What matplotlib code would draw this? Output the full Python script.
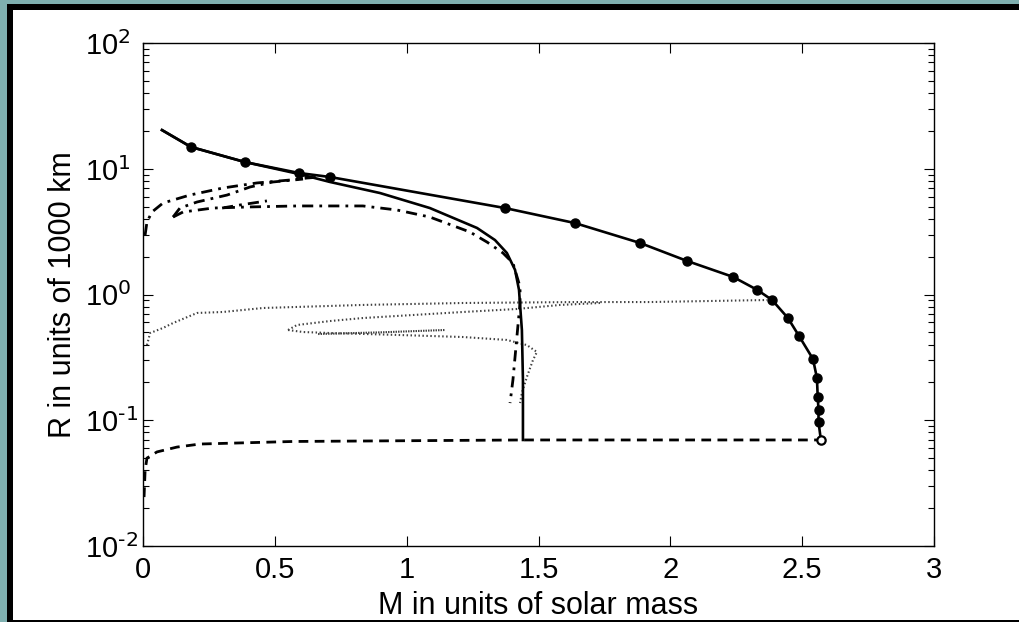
import matplotlib
matplotlib.use("Agg")
import matplotlib.pyplot as plt
from matplotlib.patches import Rectangle
from matplotlib.ticker import FixedLocator, LogLocator

plt.rcParams['font.family'] = ['Liberation Sans', 'DejaVu Sans']
plt.rcParams['mathtext.default'] = 'regular'

# Curve A: solid with markers
mA = [0.072, 0.182, 0.387, 0.592, 0.709, 1.373, 1.638, 1.885, 2.063, 2.238, 2.329,
      2.386, 2.446, 2.488, 2.541, 2.556, 2.559, 2.562, 2.562, 2.571]
rA = [20.3, 14.9, 11.3, 9.25, 8.6, 4.87, 3.70, 2.57, 1.85, 1.38, 1.09,
      0.904, 0.650, 0.468, 0.307, 0.217, 0.153, 0.121, 0.0969, 0.0697]

# Curve B: solid (no markers)
mB = [0.072, 0.182, 0.387, 0.592, 0.709, 0.899, 1.088, 1.267, 1.335, 1.380, 1.411,
      1.426, 1.437, 1.441, 1.441]
rB = [20.3, 14.9, 11.3, 9.08, 7.85, 6.41, 4.87, 3.38, 2.71, 2.14, 1.57,
      1.09, 0.522, 0.209, 0.0697]

# Curve C: dashed
mC = [0.004, 0.008, 0.015, 0.053, 0.129, 0.216, 0.569, 1.441, 2.571]
rC = [0.0245, 0.040, 0.050, 0.056, 0.0612, 0.0647, 0.0678, 0.0697, 0.0697]

# Dash-dot curves
mD1 = [0.008, 0.015, 0.034, 0.076, 0.178, 0.303, 0.432, 0.558, 0.622, 0.671]
rD1 = [2.97, 3.77, 4.53, 5.34, 6.18, 7.03, 7.71, 8.14, 8.44, 8.59]
mD2 = [0.114, 0.140, 0.205, 0.319, 0.406, 0.493, 0.607]
rD2 = [4.13, 4.87, 5.44, 6.18, 7.16, 7.85, 8.28]
mD3 = [0.114, 0.152, 0.265, 0.406, 0.584, 0.709, 0.834, 0.963, 1.088, 1.240, 1.305,
       1.365, 1.403, 1.430, 1.430, 1.418, 1.403, 1.392]
rD3 = [4.13, 4.53, 4.87, 4.97, 5.06, 5.06, 5.06, 4.70, 4.13, 3.14, 2.61,
       2.14, 1.78, 1.15, 0.856, 0.459, 0.209, 0.137]
mD4 = [0.300, 0.368, 0.470]
rD4 = [4.87, 5.15, 5.55]

# Dotted curves
mE1 = [0.015, 0.027, 0.076, 0.114, 0.205, 0.303, 0.455, 0.834, 1.214, 1.646, 1.923, 2.367]
rE1 = [0.396, 0.494, 0.542, 0.593, 0.713, 0.726, 0.781, 0.826, 0.856, 0.871, 0.871, 0.904]
mE2 = [0.550, 0.584, 0.709, 0.834, 1.214, 1.418, 1.582, 1.733]
rE2 = [0.522, 0.572, 0.615, 0.650, 0.726, 0.767, 0.826, 0.856]
mE3 = [0.550, 0.607, 0.709, 0.963, 1.214, 1.380, 1.456, 1.494, 1.479, 1.456, 1.437, 1.430]
rE3 = [0.522, 0.503, 0.494, 0.477, 0.459, 0.435, 0.396, 0.349, 0.301, 0.221, 0.165, 0.137]
mE4 = [0.664, 0.900, 1.145]
rE4 = [0.485, 0.500, 0.522]

xticks = [0, 0.5, 1, 1.5, 2, 2.5, 3]
xtick_labels = ['0', '0.5', '1', '1.5', '2', '2.5', '3']
yticks = [1e-2, 1e-1, 1e0, 1e1, 1e2]
yexps = ['-2', '-1', '0', '1', '2']

W, H = 1019, 622
fig = plt.figure(figsize=(W / 100, H / 100), dpi=100)
fig.patch.set_facecolor('#7fb0b0')
fig.patches.append(Rectangle((7 / W, 0), 1, 1 - 4 / H, transform=fig.transFigure,
                             facecolor='black', edgecolor='none', zorder=-2))
fig.patches.append(Rectangle((13 / W, 2 / H), 1, 1 - 12 / H, transform=fig.transFigure,
                             facecolor='white', edgecolor='none', zorder=-1))

ax = fig.add_axes([143 / W, (H - 546) / H, 791 / W, 503 / H])
ax.set_facecolor('white')

dotc = '0.25'
dots = (0, (0.7, 1.2))
ax.plot(mE1, rE1, color=dotc, lw=1.5, ls=dots)
ax.plot(mE2, rE2, color=dotc, lw=1.5, ls=dots)
ax.plot(mE3, rE3, color=dotc, lw=1.5, ls=dots)
ax.plot(mE4, rE4, color=dotc, lw=1.5, ls=(0, (0.7, 0.5)))

dd = (0, (4, 2.2, 1, 2.2))
for m, r in [(mD1, rD1), (mD2, rD2), (mD3, rD3), (mD4, rD4)]:
    ax.plot(m, r, color='black', lw=2.0, ls=dd)

ax.plot(mC, rC, color='black', lw=2.0, ls=(0, (3.5, 2.3)))
ax.plot(mB, rB, color='black', lw=1.9)
ax.plot(mA, rA, color='black', lw=1.9)
ax.plot(mA[1:-1], rA[1:-1], 'o', color='black', ms=6.5)
ax.plot(mA[-1:], rA[-1:], 'o', mfc='white', mec='black', mew=1.6, ms=6)

ax.set_yscale('log')
ax.set_xlim(0, 3)
ax.set_ylim(1e-2, 1e2)
ax.xaxis.set_major_locator(FixedLocator(xticks))
ax.set_xticklabels(xtick_labels)
ax.yaxis.set_major_locator(FixedLocator(yticks))
ax.yaxis.set_minor_locator(LogLocator(base=10, subs=range(2, 10), numticks=20))

def set_ylabels(hyphen):
    if hyphen:
        labs = [r'$10^{\text{%s}}$' % e for e in yexps]
    else:
        labs = [r'$10^{%s}$' % e for e in yexps]
    ax.set_yticklabels(labs)

try:
    set_ylabels(True)
    fig.canvas.draw()
except Exception:
    set_ylabels(False)

ax.tick_params(which='both', direction='in', top=True, right=True, labelsize=21)
ax.tick_params(axis='x', pad=7)
ax.tick_params(axis='y', pad=42)
for lab in ax.get_yticklabels():
    lab.set_horizontalalignment('left')
ax.tick_params(which='major', length=7, width=0.8)
ax.tick_params(which='minor', length=4, width=0.8)
for s in ax.spines.values():
    s.set_linewidth(1.0)

ax.set_xlabel('M in units of solar mass', fontsize=22, labelpad=5)
ax.set_ylabel('R in units of 1000 km', fontsize=22)
ax.yaxis.set_label_coords(-0.082, 0.5)

fig.savefig('out.png', dpi=100, facecolor=fig.get_facecolor())
